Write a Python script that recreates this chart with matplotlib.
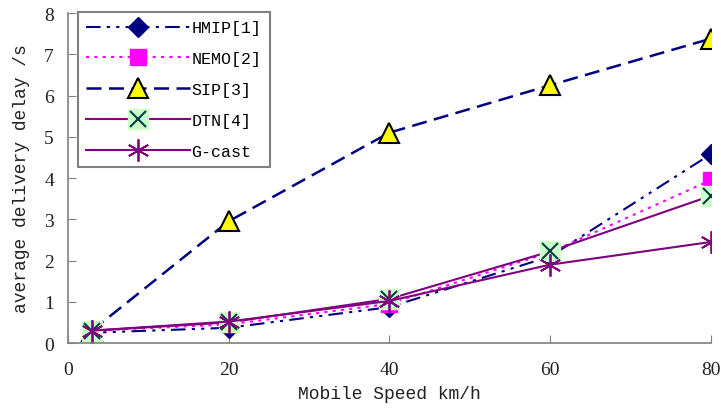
import matplotlib
matplotlib.use("Agg")
import matplotlib.pyplot as plt
from matplotlib.legend_handler import HandlerTuple

speed = [3, 20, 40, 60, 80]
hmip = [0.25, 0.37, 0.87, 2.1, 4.58]
nemo = [0.3, 0.45, 0.95, 2.2, 3.95]
sip = [0.3, 2.95, 5.1, 6.25, 7.38]
dtn = [0.3, 0.5, 1.07, 2.22, 3.57]
gcast = [0.3, 0.52, 1.02, 1.9, 2.45]
labels = ["HMIP[1]", "NEMO[2]", "SIP[3]", "DTN[4]", "G-cast"]

mono = "Liberation Mono"
serif = "Liberation Serif"

fig = plt.figure(figsize=(7.21, 4.14), dpi=100)
ax = fig.add_axes([0.094, 0.169, 0.892, 0.797])

navy = "#000080"
purple = "#800080"

h1, = ax.plot(speed, hmip, color=navy, lw=1.5, dashes=(7, 3, 1.5, 3, 1.5, 3),
              marker="D", ms=10, mfc=navy, mec=navy)
h2, = ax.plot(speed, nemo, color="#ff00ff", lw=1.5, dashes=(1.5, 2.5),
              marker="s", ms=11, mfc="#ff00ff", mec="#ff00ff")
h3, = ax.plot(speed, sip, color=navy, lw=1.8, dashes=(6, 3),
              marker="^", ms=14, mfc="#ffff00", mec="black", mew=1.5)
h4, = ax.plot(speed, dtn, color=purple, lw=1.5,
              marker="s", ms=15, mfc="#ccffcc", mec="#ccffcc")
h4x, = ax.plot(speed, dtn, ls="none", marker="x", ms=12, mec="#004040", mew=1.5)
h5, = ax.plot(speed, gcast, color=purple, lw=1.5,
              marker=(6, 2, 0), ms=16, mec=purple, mew=1.3)

ax.set_xlim(0, 80)
ax.set_ylim(0, 8)
ax.set_xticks([0, 20, 40, 60, 80])
ax.set_yticks(range(0, 9))
for s in ["top", "right"]:
    ax.spines[s].set_visible(False)
for s in ["left", "bottom"]:
    ax.spines[s].set_color("#808080")
    ax.spines[s].set_linewidth(1.2)
ax.tick_params(direction="in", length=6, color="#808080", labelsize=14)
ax.tick_params(axis="x", pad=13)
ax.tick_params(axis="y", pad=10)
for t in ax.get_xticklabels() + ax.get_yticklabels():
    t.set_fontfamily(serif)
    t.set_color("#222222")

ax.set_xlabel("Mobile Speed km/h", fontfamily=mono, fontsize=13, color="#222222", labelpad=5)
ax.set_ylabel("average delivery delay /s", fontfamily=mono, fontsize=13, color="#222222", labelpad=10)

leg = ax.legend([h1, h2, h3, (h4, h4x), h5], labels,
                handler_map={tuple: HandlerTuple(ndivide=1)},
                loc="upper left", bbox_to_anchor=(0.016, 1.003), borderaxespad=0,
                prop={"family": mono, "size": 12}, numpoints=1,
                handlelength=6.2, labelspacing=0.95, borderpad=0.5,
                handletextpad=0.1, fancybox=False, framealpha=1)
leg.get_frame().set_edgecolor("#808080")
leg.get_frame().set_linewidth(1.5)

fig.savefig("out.png", dpi=100)
